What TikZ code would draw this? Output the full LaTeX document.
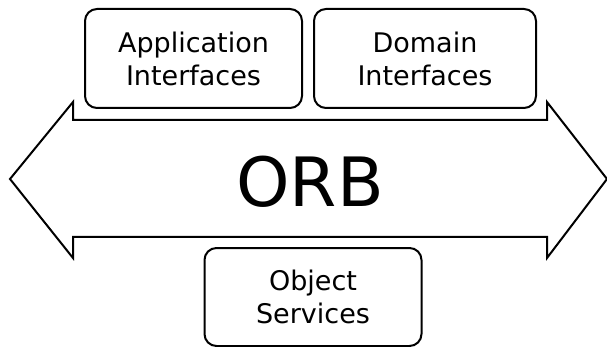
\documentclass[tikz,border=0pt]{standalone}
\usepackage{fontspec}
\setmainfont{DejaVu Sans}
\begin{document}
\begin{tikzpicture}[x=1pt,y=-1pt,
  line width=2pt, line join=miter,
  layerbox/.style={draw=black, rounded corners=12pt, align=center,
    inner sep=0pt, font=\fontsize{27}{33}\selectfont},
  orblabel/.style={inner sep=0pt, font=\fontsize{68}{80}\selectfont}]
  \useasboundingbox (0,0) rectangle (607,347);

  % ORB drawn as a wide double-headed arrow
  \draw[black] (10,179) -- (73,102) -- (73,120) -- (547,120) -- (547,102)
    -- (607,179) -- (547,258) -- (547,237) -- (73,237) -- (73,258) -- cycle;
  \node[orblabel, anchor=base] (orb) at (310,207) {ORB};

  % Interface groups above the bus
  \node[layerbox, minimum width=217pt, minimum height=99pt] (app)
    at (193.5,58.5) {Application\\Interfaces};
  \node[layerbox, minimum width=222pt, minimum height=99pt] (dom)
    at (425,58.5) {Domain\\Interfaces};

  % Services below the bus
  \node[layerbox, minimum width=217pt, minimum height=98pt] (obj)
    at (313,297) {Object\\Services};
\end{tikzpicture}
\end{document}
